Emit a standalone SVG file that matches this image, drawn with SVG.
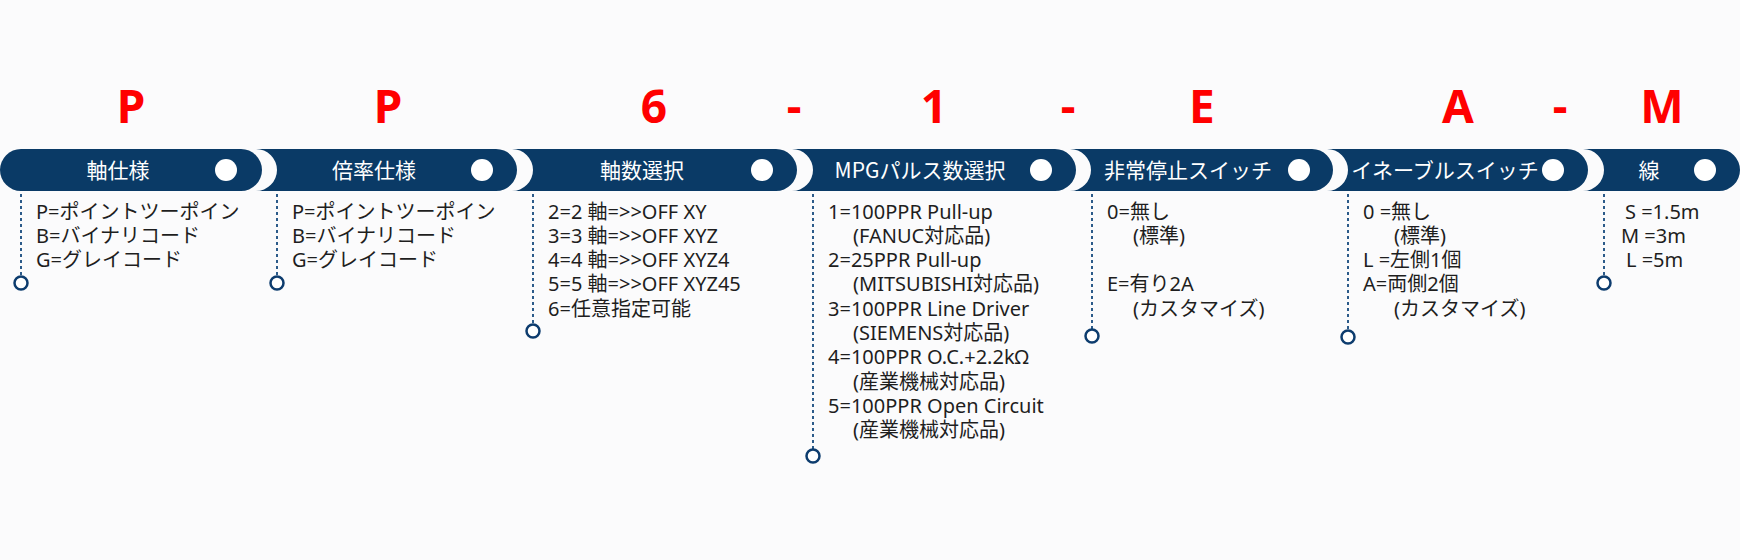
<svg xmlns="http://www.w3.org/2000/svg" width="1740" height="560" viewBox="0 0 1740 560">
<style>
.bg{fill:#fbfbfc}
.bar{fill:#0a3a66}
.knob{fill:#ffffff}
.title{font-family:"Noto Sans CJK JP","Noto Sans",sans-serif;font-size:21px;fill:#ffffff;text-anchor:middle}
.code{font-family:"Noto Sans",sans-serif;font-weight:700;font-size:46px;fill:#ff0000;text-anchor:middle}
.body{font-family:"Noto Sans","Noto Sans CJK JP",sans-serif;font-size:20px;fill:#1e1e1e}
.lead{stroke:#2c5b8a;stroke-width:2;stroke-dasharray:3 3;fill:none}
.end{fill:#ffffff;stroke:#0d3c6e;stroke-width:2.5}
</style>
<rect class="bg" x="0" y="0" width="1740" height="560"/>
<g id="code">
<text class="code" x="131" y="123">P</text>
<text class="code" x="388" y="123">P</text>
<text class="code" x="654" y="123">6</text>
<text class="code" x="794" y="123">-</text>
<text class="code" x="934" y="123">1</text>
<text class="code" x="1068" y="123">-</text>
<text class="code" x="1202" y="123">E</text>
<text class="code" x="1458" y="123">A</text>
<text class="code" x="1560" y="123">-</text>
<text class="code" x="1662" y="123">M</text>
</g>
<g id="connectors">
<line class="lead" x1="21" y1="194" x2="21" y2="276"/>
<line class="lead" x1="277" y1="194" x2="277" y2="276"/>
<line class="lead" x1="533" y1="194" x2="533" y2="324"/>
<line class="lead" x1="813" y1="194" x2="813" y2="449"/>
<line class="lead" x1="1092" y1="194" x2="1092" y2="329"/>
<line class="lead" x1="1348" y1="194" x2="1348" y2="330"/>
<line class="lead" x1="1604" y1="194" x2="1604" y2="276"/>
<circle class="end" cx="21" cy="283" r="6.5"/>
<circle class="end" cx="277" cy="283" r="6.5"/>
<circle class="end" cx="533" cy="331" r="6.5"/>
<circle class="end" cx="813" cy="456" r="6.5"/>
<circle class="end" cx="1092" cy="336" r="6.5"/>
<circle class="end" cx="1348" cy="337" r="6.5"/>
<circle class="end" cx="1604" cy="283" r="6.5"/>
</g>
<g id="seg1">
<path class="bar" d="M21,149 H241 A21,21 0 0 1 241,191 H21 A21,21 0 0 1 21,149 Z"/>
<circle class="knob" cx="226" cy="170" r="11"/>
<text class="title" x="118" y="178">軸仕様</text>
<text class="body" x="36" y="218.5">P=ポイントツーポイン</text>
<text class="body" x="36" y="242.8">B=バイナリコード</text>
<text class="body" x="36" y="267.1">G=グレイコード</text>
</g>
<g id="seg2">
<path class="bar" d="M256,149 H496 A21,21 0 0 1 496,191 H256 A21,21 0 0 0 256,149 Z"/>
<circle class="knob" cx="482" cy="170" r="11"/>
<text class="title" x="374" y="178">倍率仕様</text>
<text class="body" x="292" y="218.5">P=ポイントツーポイン</text>
<text class="body" x="292" y="242.8">B=バイナリコード</text>
<text class="body" x="292" y="267.1">G=グレイコード</text>
</g>
<g id="seg3">
<path class="bar" d="M512,149 H776 A21,21 0 0 1 776,191 H512 A21,21 0 0 0 512,149 Z"/>
<circle class="knob" cx="762" cy="170" r="11"/>
<text class="title" x="642" y="178">軸数選択</text>
<text class="body" x="548" y="218.5">2=2 軸=&gt;&gt;OFF XY</text>
<text class="body" x="548" y="242.8">3=3 軸=&gt;&gt;OFF XYZ</text>
<text class="body" x="548" y="267.1">4=4 軸=&gt;&gt;OFF XYZ4</text>
<text class="body" x="548" y="291.4">5=5 軸=&gt;&gt;OFF XYZ45</text>
<text class="body" x="548" y="315.7">6=任意指定可能</text>
</g>
<g id="seg4">
<path class="bar" d="M792,149 H1055 A21,21 0 0 1 1055,191 H792 A21,21 0 0 0 792,149 Z"/>
<circle class="knob" cx="1041" cy="170" r="11"/>
<text class="title" x="920" y="178">MPGパルス数選択</text>
<text class="body" x="828" y="218.5">1=100PPR Pull-up</text>
<text class="body" x="853" y="242.8">(FANUC対応品)</text>
<text class="body" x="828" y="267.1">2=25PPR Pull-up</text>
<text class="body" x="853" y="291.4">(MITSUBISHI対応品)</text>
<text class="body" x="828" y="315.7">3=100PPR Line Driver</text>
<text class="body" x="853" y="340">(SIEMENS対応品)</text>
<text class="body" x="828" y="364.3">4=100PPR O.C.+2.2kΩ</text>
<text class="body" x="853" y="388.6">(産業機械対応品)</text>
<text class="body" x="828" y="412.9">5=100PPR Open Circuit</text>
<text class="body" x="853" y="437.2">(産業機械対応品)</text>
</g>
<g id="seg5">
<path class="bar" d="M1070,149 H1312 A21,21 0 0 1 1312,191 H1070 A21,21 0 0 0 1070,149 Z"/>
<circle class="knob" cx="1299" cy="170" r="11"/>
<text class="title" x="1188" y="178">非常停止スイッチ</text>
<text class="body" x="1107" y="218.5">0=無し</text>
<text class="body" x="1133" y="242.8">(標準)</text>
<text class="body" x="1107" y="291.4">E=有り2A</text>
<text class="body" x="1133" y="315.7">(カスタマイズ)</text>
</g>
<g id="seg6">
<path class="bar" d="M1327,149 H1567 A21,21 0 0 1 1567,191 H1327 A21,21 0 0 0 1327,149 Z"/>
<circle class="knob" cx="1553" cy="170" r="11"/>
<text class="title" x="1445" y="178">イネーブルスイッチ</text>
<text class="body" x="1363" y="218.5">0 =無し</text>
<text class="body" x="1394" y="242.8">(標準)</text>
<text class="body" x="1363" y="267.1">L =左側1個</text>
<text class="body" x="1363" y="291.4">A=両側2個</text>
<text class="body" x="1394" y="315.7">(カスタマイズ)</text>
</g>
<g id="seg7">
<path class="bar" d="M1583,149 H1719 A21,21 0 0 1 1719,191 H1583 A21,21 0 0 0 1583,149 Z"/>
<circle class="knob" cx="1705" cy="170" r="11"/>
<text class="title" x="1649" y="178">線</text>
<text class="body" x="1625" y="218.5">S =1.5m</text>
<text class="body" x="1621" y="242.8">M =3m</text>
<text class="body" x="1626" y="267.1">L =5m</text>
</g>
</svg>
